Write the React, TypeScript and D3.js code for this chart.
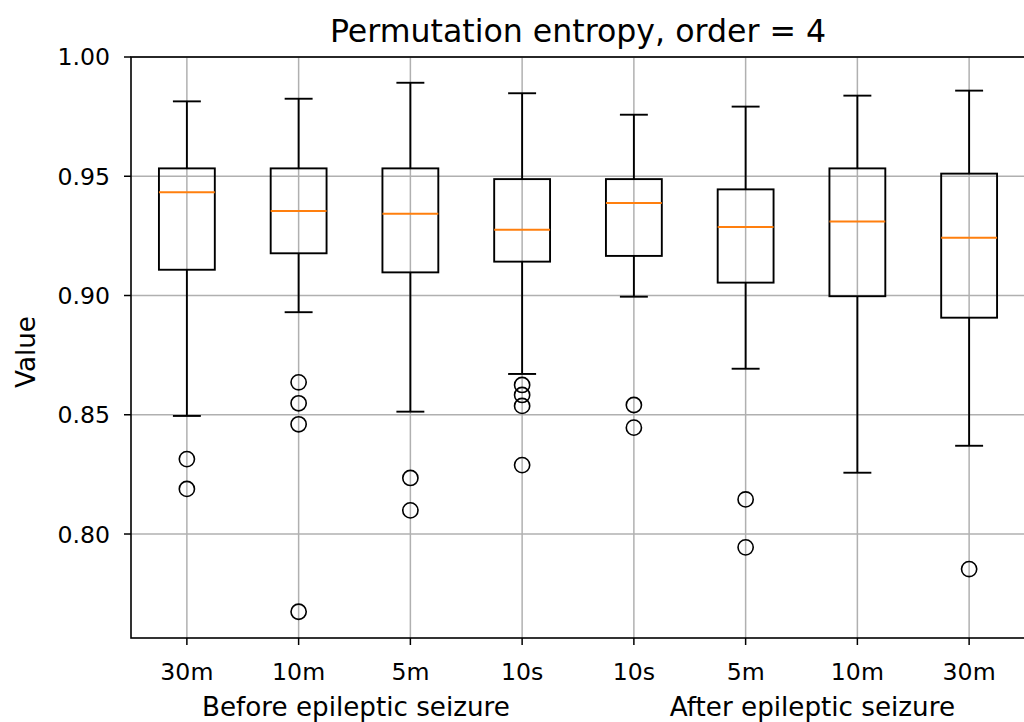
import React from "react";
import * as d3 from "d3";

const categories = ["30m", "10m", "5m", "10s", "10s", "5m", "10m", "30m"];
const whiskerLow = [0.8495, 0.893, 0.8513, 0.8671, 0.8995, 0.8693, 0.8257, 0.837];
const q1 = [0.9108, 0.9177, 0.9097, 0.9142, 0.9166, 0.9054, 0.8997, 0.8907];
const medians = [0.9433, 0.9354, 0.9343, 0.9276, 0.9388, 0.9287, 0.931, 0.9242];
const q3 = [0.9533, 0.9533, 0.9533, 0.9488, 0.9488, 0.9445, 0.9533, 0.9511];
const whiskerHigh = [0.9814, 0.9825, 0.9892, 0.9848, 0.9758, 0.9792, 0.9838, 0.9859];
const outliers = [
  [0.8314, 0.8189],
  [0.8636, 0.8548, 0.846, 0.7674],
  [0.8235, 0.8099],
  [0.8625, 0.8583, 0.8537, 0.8289],
  [0.8541, 0.8446],
  [0.8145, 0.7944],
  [],
  [0.7853],
];
const yTicks = [0.8, 0.85, 0.9, 0.95, 1.0];
const title = "Permutation entropy, order = 4";
const yLabel = "Value";
const xLabelBefore = "Before epileptic seizure";
const xLabelAfter = "After epileptic seizure";

const W = 1024;
const H = 722;
const left = 131;
const right = 1025;
const top = 57;
const bottom = 638;

export default function App() {
  const x = d3.scaleLinear().domain([0.5, 8.5]).range([left, right]);
  const y = d3.scaleLinear().domain([0.7564, 1.0]).range([bottom, top]);
  const boxHalf = (x(1.25) - x(1)) ;
  const capHalf = (x(1.125) - x(1));
  const font = "'DejaVu Sans', sans-serif";
  const grid = "#b0b0b0";
  const lw = 1.9;

  return (
    <svg
      width={W}
      height={H}
      style={{ position: "absolute", left: 0, top: 0, background: "#fff" }}
      fontFamily={font}
    >
      <rect x={0} y={0} width={W} height={H} fill="#fff" />
      {/* grid */}
      {yTicks.map((t, i) => (
        <line key={"gy" + i} x1={left} x2={right} y1={y(t)} y2={y(t)} stroke={grid} strokeWidth={1.5} />
      ))}
      {categories.map((c, i) => (
        <line key={"gx" + i} x1={x(i + 1)} x2={x(i + 1)} y1={top} y2={bottom} stroke={grid} strokeWidth={1.5} />
      ))}
      {/* boxes */}
      {categories.map((c, i) => {
        const cx = x(i + 1);
        return (
          <g key={"b" + i} fill="none" stroke="#000" strokeWidth={lw}>
            <rect x={cx - boxHalf} y={y(q3[i])} width={boxHalf * 2} height={y(q1[i]) - y(q3[i])} />
            <line x1={cx} x2={cx} y1={y(q3[i])} y2={y(whiskerHigh[i])} />
            <line x1={cx} x2={cx} y1={y(q1[i])} y2={y(whiskerLow[i])} />
            <line x1={cx - capHalf} x2={cx + capHalf} y1={y(whiskerHigh[i])} y2={y(whiskerHigh[i])} />
            <line x1={cx - capHalf} x2={cx + capHalf} y1={y(whiskerLow[i])} y2={y(whiskerLow[i])} />
            <line x1={cx - boxHalf} x2={cx + boxHalf} y1={y(medians[i])} y2={y(medians[i])} stroke="#ff7f0e" />
            {outliers[i].map((o, j) => (
              <circle key={j} cx={cx} cy={y(o)} r={7.6} strokeWidth={1.6} />
            ))}
          </g>
        );
      })}
      {/* spines */}
      <rect x={left} y={top} width={right - left} height={bottom - top} fill="none" stroke="#000" strokeWidth={1.6} />
      {/* y ticks */}
      {yTicks.map((t, i) => (
        <g key={"yt" + i}>
          <line x1={left - 7} x2={left} y1={y(t)} y2={y(t)} stroke="#000" strokeWidth={1.5} />
          <text x={110} y={y(t)} dy="0.36em" textAnchor="end" fontSize={23.6} fill="#000">
            {t.toFixed(2)}
          </text>
        </g>
      ))}
      {/* x ticks */}
      {categories.map((c, i) => (
        <g key={"xt" + i}>
          <line x1={x(i + 1)} x2={x(i + 1)} y1={bottom} y2={bottom + 7} stroke="#000" strokeWidth={1.5} />
          <text x={x(i + 1)} y={680} textAnchor="middle" fontSize={23.6} fill="#000">
            {c}
          </text>
        </g>
      ))}
      <text x={202} y={716} textAnchor="start" fontSize={26.2} fill="#000">{xLabelBefore}</text>
      <text x={955} y={716} textAnchor="end" fontSize={26.2} fill="#000">{xLabelAfter}</text>
      <text transform={`translate(35,352) rotate(-90)`} textAnchor="middle" fontSize={26.2} fill="#000">{yLabel}</text>
      <text x={(left + right) / 2} y={42} textAnchor="middle" fontSize={31.6} fill="#000">{title}</text>
    </svg>
  );
}
